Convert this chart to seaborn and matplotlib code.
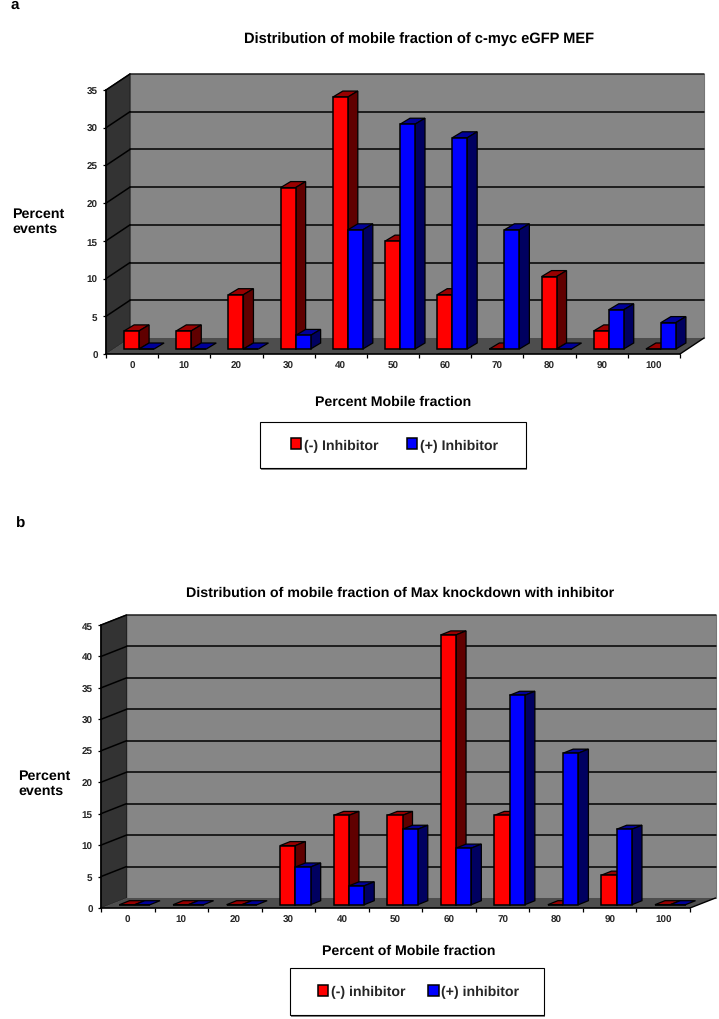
import matplotlib
matplotlib.use("Agg")
import matplotlib.pyplot as plt
from matplotlib.patches import Polygon, Rectangle
from matplotlib.lines import Line2D
from matplotlib.transforms import Affine2D
import pandas as pd
import seaborn as sns

W, H = 719, 1020

categories = ["0", "10", "20", "30", "40", "50", "60", "70", "80", "90", "100"]

a_minus = [2.4, 2.4, 7.2, 21.4, 33.4, 14.3, 7.2, 0, 9.6, 2.4, 0]
a_plus = [0, 0, 0, 1.8, 15.8, 29.8, 28.0, 15.8, 0, 5.2, 3.5]
a_names = ["(-) Inhibitor", "(+) Inhibitor"]
a_title = "Distribution of mobile fraction of c-myc eGFP MEF"
a_xlabel = "Percent Mobile fraction"

b_minus = [0, 0, 0, 9.4, 14.2, 14.2, 42.9, 14.2, 0, 4.7, 0]
b_plus = [0, 0, 0, 6.0, 3.0, 12.0, 9.0, 33.3, 24.1, 12.0, 0]
b_names = ["(-) inhibitor", "(+) inhibitor"]
b_title = "Distribution of mobile fraction of Max knockdown with inhibitor"
b_xlabel = "Percent of Mobile fraction"

sns.set_style("white")
plt.rcParams["font.family"] = ["Liberation Sans", "DejaVu Sans"]
plt.rcParams["font.weight"] = "bold"
plt.rcParams["text.hinting"] = "no_hinting"

fig = plt.figure(figsize=(W / 100, H / 100), dpi=100, facecolor="white")


def fx(p):
    return p / W


def fy(p):
    return 1 - p / H


def panel(minus, plus, names, title, title_size, xlabel, ymax, ystep, rect, depth, bar_shift,
          bar_depth, title_xy, xlabel_xy, ylabel_xy, letter, letter_xy, legend_box,
          legend_dx, legend_dy, col_space, dashed_base, bar_frac):
    left, top, right, bottom = rect
    ax = fig.add_axes([fx(left), fy(bottom), fx(right - left), (bottom - top) / H])
    df = pd.DataFrame({
        "cat": categories * 2,
        "val": minus + plus,
        "series": [names[0]] * len(minus) + [names[1]] * len(plus),
    })
    sns.barplot(data=df, x="cat", y="val", hue="series", hue_order=names,
                palette=["#ff0000", "#0000ff"], width=bar_frac, gap=0,
                saturation=1, edgecolor="black", linewidth=1.1, ax=ax, zorder=10)
    ax.set_xlim(-0.5, len(categories) - 0.5)
    ax.set_ylim(0, ymax)
    ax.patch.set_visible(False)
    x0, x1 = ax.get_xlim()
    dx, dy = depth

    back = ax.transData + Affine2D().translate(dx, dy)
    ax.add_patch(Polygon([(x0, 0), (x1, 0), (x1, ymax), (x0, ymax)], closed=True,
                         transform=back, fc="#868686", ec="#777777", lw=0.8,
                         zorder=0, clip_on=False))

    def skew(x, y):
        p = ax.transData.transform((x, y))
        return (p[0] + dx, p[1] + dy)

    front = ax.transData
    corners_left = [front.transform((x0, 0)), skew(x0, 0), skew(x0, ymax), front.transform((x0, ymax))]
    ax.add_patch(Polygon(corners_left, closed=True, transform=None, fc="#333333",
                         ec="#222222", lw=0.8, zorder=0.5, clip_on=False))
    corners_floor = [front.transform((x0, 0)), front.transform((x1, 0)), skew(x1, 0), skew(x0, 0)]
    ax.add_patch(Polygon(corners_floor, closed=True, transform=None, fc="#4d4d4d",
                         ec="none", zorder=1, clip_on=False))
    ax.add_line(Line2D([front.transform((x1, 0))[0], skew(x1, 0)[0]],
                       [front.transform((x1, 0))[1], skew(x1, 0)[1]], transform=None,
                       color="black", lw=1.0, zorder=2, clip_on=False))

    yt = list(range(0, ymax + 1, ystep))
    for v in yt[1:]:
        c = "black" if v < ymax else "#222222"
        ax.add_line(Line2D([skew(x0, v)[0], skew(x1, v)[0]], [skew(x0, v)[1], skew(x1, v)[1]],
                           transform=None, color=c, lw=1.1, zorder=2, clip_on=False))
        p = front.transform((x0, v))
        ax.add_line(Line2D([p[0], skew(x0, v)[0]], [p[1], skew(x0, v)[1]], transform=None,
                           color="black", lw=1.1, zorder=2, clip_on=False))

    # extrude the library's bars into 3-D boxes
    sx, sy = bar_shift
    bdx, bdy = bar_depth
    shift = Affine2D().translate(sx, sy)
    styles = [("#990000", "#600000"), ("#000099", "#000060")]
    for i, cont in enumerate(ax.containers):
        for bar in cont:
            bx, by, bw, bh = bar.get_x(), bar.get_y(), bar.get_width(), bar.get_height()
            bar.set_transform(ax.transData + shift)
            bar.set_zorder(4 + 2 * i)
            bar.set_clip_on(False)
            tl = front.transform((bx, by + bh)) + (sx, sy)
            tr = front.transform((bx + bw, by + bh)) + (sx, sy)
            br = front.transform((bx + bw, by)) + (sx, sy)
            off = (bdx, bdy)
            ax.add_patch(Polygon([tl, tr, tr + off, tl + off], closed=True, transform=None,
                                 fc=styles[i][0], ec="black", lw=0.9,
                                 zorder=3 + 2 * i, clip_on=False))
            if bh > 0:
                ax.add_patch(Polygon([br, tr, tr + off, br + off], closed=True, transform=None,
                                     fc=styles[i][1], ec="black", lw=0.9,
                                     zorder=3 + 2 * i, clip_on=False))

    sns.despine(ax=ax, top=True, right=True)
    for s in ("left", "bottom"):
        ax.spines[s].set_color("black")
        ax.spines[s].set_linewidth(1.2)
        ax.spines[s].set_zorder(3)
    if dashed_base:
        ax.spines["bottom"].set_linestyle((0, (1.5, 1)))

    ax.set_xlabel("")
    ax.set_ylabel("")
    ax.set_yticks(yt)
    ax.set_yticklabels([str(v) for v in yt], fontsize=7.1, fontweight="bold")
    ax.set_xticks([x0 + k for k in range(len(categories) + 1)])
    ax.set_xticklabels([])
    ax.set_xticks(range(len(categories)), labels=categories, minor=True,
                  fontsize=7.1, fontweight="bold")
    ax.tick_params(axis="y", direction="out", length=2.4, width=0.9, pad=3.6, color="black", left=True)
    ax.tick_params(axis="x", which="major", direction="out", length=2.6, width=0.9, color="black", bottom=True)
    ax.tick_params(axis="x", which="minor", length=0, pad=4.8)

    fig.text(fx(title_xy[0]), fy(title_xy[1]), title, fontsize=title_size, fontweight="bold",
             ha="center", va="center", color="black")
    fig.text(fx(xlabel_xy[0]), fy(xlabel_xy[1]), xlabel, fontsize=10.2, fontweight="bold",
             ha="center", va="center", color="black")
    fig.text(fx(ylabel_xy[0]), fy(ylabel_xy[1]), "Percent\nevents", fontsize=10.3,
             fontweight="bold", ha="left", va="center", color="black", linespacing=1.2)
    fig.text(fx(letter_xy[0]), fy(letter_xy[1]), letter, fontsize=11, fontweight="bold",
             ha="center", va="center", color="black")

    handles, labels = ax.get_legend_handles_labels()
    ax.get_legend().remove()
    lx0, ly0, lx1, ly1 = legend_box
    fig.add_artist(Rectangle((fx(lx0 + 1), fy(ly1 + 2)), fx(lx1 - lx0), (ly1 - ly0) / H,
                             transform=fig.transFigure, fc="#808080", ec="none", zorder=4))
    fig.add_artist(Rectangle((fx(lx0), fy(ly1)), fx(lx1 - lx0), (ly1 - ly0) / H,
                             transform=fig.transFigure, fc="white", ec="black", lw=0.8, zorder=5))
    leg = fig.legend(handles, labels, loc="center",
                     bbox_to_anchor=(fx((lx0 + lx1) / 2 + legend_dx), fy((ly0 + ly1) / 2 + legend_dy)),
                     ncol=2, frameon=False,
                     prop={"size": 10.2, "weight": "bold"},
                     handlelength=0.72, handleheight=0.8, handletextpad=0.2,
                     columnspacing=col_space, borderpad=0, borderaxespad=0)
    leg.set_zorder(6)
    return ax


panel(a_minus, a_plus, a_names, a_title, 10.5, a_xlabel, 35, 5,
      rect=(106, 91, 680, 355), depth=(24, 16), bar_shift=(7, 5), bar_depth=(10, 6),
      title_xy=(419, 39), xlabel_xy=(393, 402), ylabel_xy=(12.5, 222),
      letter="a", letter_xy=(15, 5), legend_box=(260, 423, 526, 469),
      legend_dx=1.5, legend_dy=0, col_space=2.0, dashed_base=False, bar_frac=0.575)

panel(b_minus, b_plus, b_names, b_title, 10.25, b_xlabel, 45, 5,
      rect=(101, 626, 690, 909), depth=(25.5, 10), bar_shift=(7, 3.3), bar_depth=(10, 4),
      title_xy=(400, 593), xlabel_xy=(409, 951), ylabel_xy=(18.5, 784),
      letter="b", letter_xy=(21, 524), legend_box=(290, 969, 544, 1016),
      legend_dx=1.5, legend_dy=0, col_space=1.65, dashed_base=True, bar_frac=0.571)

fig.savefig("out.png", dpi=100, facecolor="white")
